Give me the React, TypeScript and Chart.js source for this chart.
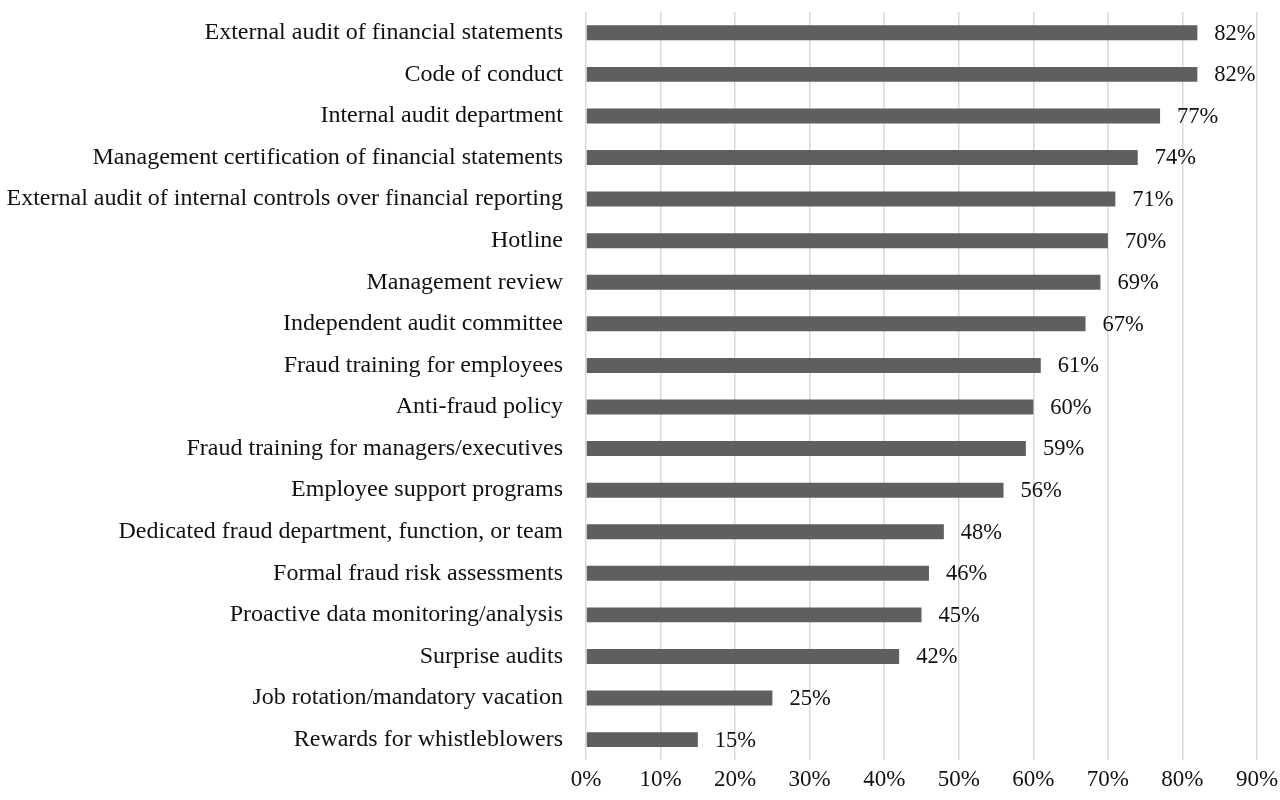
import React, { useEffect, useRef } from "react";
import { Chart, registerables } from "chart.js";

Chart.register(...registerables);

const categories = [
  "External audit of financial statements",
  "Code of conduct",
  "Internal audit department",
  "Management certification of financial statements",
  "External audit of internal controls over financial reporting",
  "Hotline",
  "Management review",
  "Independent audit committee",
  "Fraud training for employees",
  "Anti-fraud policy",
  "Fraud training for managers/executives",
  "Employee support programs",
  "Dedicated fraud department, function, or team",
  "Formal fraud risk assessments",
  "Proactive data monitoring/analysis",
  "Surprise audits",
  "Job rotation/mandatory vacation",
  "Rewards for whistleblowers",
];

const values = [82, 82, 77, 74, 71, 70, 69, 67, 61, 60, 59, 56, 48, 46, 45, 42, 25, 15];

const tickValues = [0, 10, 20, 30, 40, 50, 60, 70, 80, 90];

const FONT = '"Liberation Serif", "Times New Roman", serif';

const valueLabelPlugin = {
  id: "valueLabels",
  afterDatasetsDraw(chart: any) {
    const ctx = chart.ctx;
    const meta = chart.getDatasetMeta(0);
    ctx.save();
    ctx.font = `22.5px ${FONT}`;
    ctx.fillStyle = "#111";
    ctx.textAlign = "left";
    ctx.textBaseline = "middle";
    meta.data.forEach((bar: any, i: number) => {
      ctx.fillText(`${values[i]}%`, bar.x + 17, bar.y + 1);
    });
    ctx.restore();
  },
};

export default function App() {
  const ref = useRef<HTMLCanvasElement | null>(null);

  useEffect(() => {
    if (!ref.current) return;
    const chart = new Chart(ref.current, {
      type: "bar",
      data: {
        labels: categories,
        datasets: [
          {
            data: values,
            backgroundColor: "#5f5f5f",
            borderWidth: 0,
            barPercentage: 0.36,
            categoryPercentage: 1,
          },
        ],
      },
      options: {
        indexAxis: "y",
        animation: false,
        responsive: true,
        maintainAspectRatio: false,
        layout: { padding: { top: 12, right: 23, bottom: 0, left: 0 } },
        plugins: {
          legend: { display: false },
          tooltip: { enabled: false },
        },
        scales: {
          x: {
            min: 0,
            max: 90,
            afterBuildTicks(scale: any) {
              scale.ticks = tickValues.map((v) => ({ value: v }));
            },
            afterFit(scale: any) {
              scale.paddingLeft = 0;
              scale.paddingRight = 0;
            },
            grid: { color: "#d9d9d9", lineWidth: 1.5, drawTicks: false },
            border: { display: false },
            ticks: {
              padding: 6,
              color: "#111",
              font: { family: FONT, size: 23 },
              callback: (v: any) => `${v}%`,
              maxRotation: 0,
            },
          },
          y: {
            grid: { display: false, drawTicks: false },
            border: { display: false },
            afterFit(scale: any) {
              scale.width = 586;
              scale.paddingTop = 0;
              scale.paddingBottom = 0;
            },
            ticks: {
              padding: 23,
              color: "#111",
              font: { family: FONT, size: 24 },
              autoSkip: false,
            },
          },
        },
      },
      plugins: [valueLabelPlugin],
    });
    return () => chart.destroy();
  }, []);

  return (
    <div style={{ position: "absolute", left: 0, top: 0, width: 1280, height: 800 }}>
      <canvas ref={ref} />
    </div>
  );
}
